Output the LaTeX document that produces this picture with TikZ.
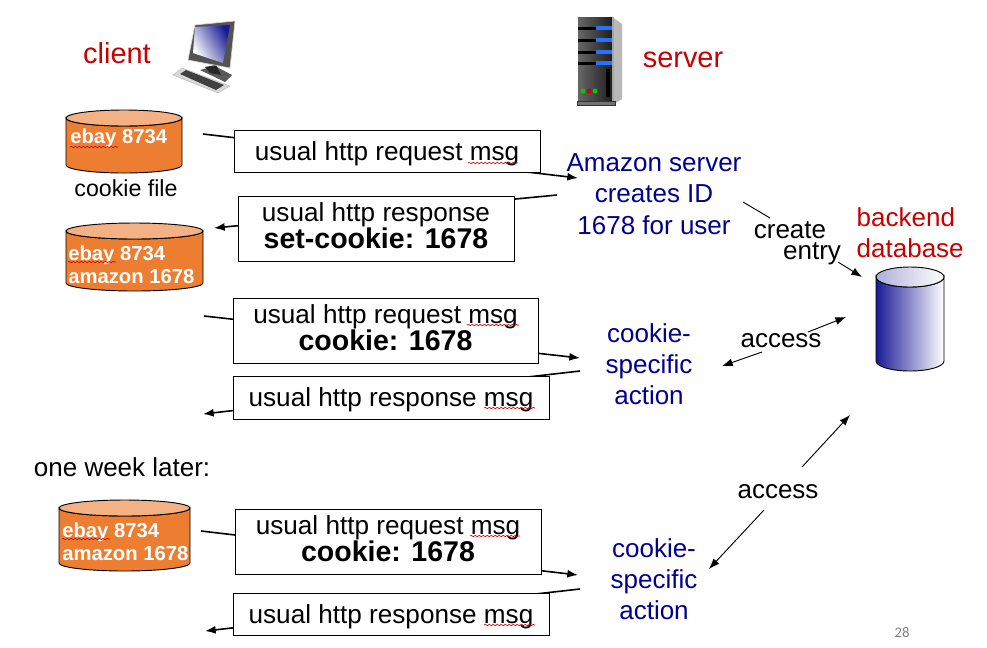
\documentclass[tikz,border=0pt]{standalone}
\usepackage{fontspec}
\setmainfont{Liberation Sans}
\newfontfamily\pagefont{Carlito}
\usetikzlibrary{arrows.meta,decorations.pathmorphing}
\definecolor{titlered}{HTML}{C80000}
\definecolor{stepblue}{HTML}{000090}
\definecolor{drumbody}{HTML}{ED7D31}
\definecolor{drumtop}{HTML}{F4B183}
\definecolor{dbblue}{HTML}{1A1A96}
\newcommand{\drum}[7]{%
  \pgfmathsetmacro{\rx}{(#2-#1)/2}
  \pgfmathsetmacro{\cx}{(#2+#1)/2}
  \pgfmathsetmacro{\ytop}{#3+#5}
  \pgfmathsetmacro{\ybot}{#4-#5}
  \draw[line width=0.7pt,#6] (#1,\ytop) -- (#1,\ybot)
    arc[start angle=180,end angle=0,x radius=\rx,y radius=#5] -- (#2,\ytop)
    arc[start angle=0,end angle=180,x radius=\rx,y radius=#5] -- cycle;
  \draw[line width=0.7pt,#7] (\cx,\ytop) ellipse [x radius=\rx,y radius=#5];
}
\newcommand{\boldline}{\fontsize{21.4}{19.5}\bfseries\selectfont}
\tikzset{
  msgbox/.style={draw,line width=0.7pt,fill=white,inner sep=0pt,align=center,font=\fontsize{19.6}{19.5}\selectfont},
  onebox/.style={msgbox,text depth=0pt},
  twobox/.style={msgbox,text depth=4.5pt},
  msgline/.style={line width=1.2pt,-{Latex[length=8pt,width=6pt]}},
  thinline/.style={line width=0.7pt},
  thinarrow/.style={thinline,-{Latex[length=8pt,width=6pt]}},
  steptext/.style={text=stepblue,align=center,font=\fontsize{19.5}{23.4}\selectfont},
  titletext/.style={text=titlered,font=\fontsize{21.7}{23.2}\selectfont},
  plaintext/.style={font=\fontsize{19.5}{19.5}\selectfont,inner sep=0.5pt},
  drumtext/.style={text=white,anchor=west,inner sep=0pt,align=left,font=\fontsize{15.2}{17.6}\bfseries\selectfont},
  squiggle/.style={red!85!black,line width=0.5pt,decorate,decoration={snake,amplitude=0.5pt,segment length=3pt}},
}
\begin{document}
\begin{tikzpicture}[x=0.75pt,y=-0.75pt]
  \useasboundingbox (0,0) rectangle (987,647);
  % message ends
  \foreach \id/\x/\y in {ma/203/134,mb/578/178,mc/557/195,md/214/228,me/204/316,mf/580/358,
    mg/580/371,mh/203/414,mi/201/531,mj/578/575,mk/580/589,ml/205/631,
    ca/743/202,cb/770/218,cc/838/262,cd/862/277,
    aa/722/366,ab/762/352,ac/808/332,ad/846/317,
    ae/709/569,af/764/510,ag/802/467,ah/850/415}{
    \coordinate (\id) at (\x,\y);
  }
  \draw[msgline] (ma) -- (mb);
  \draw[msgline] (mc) -- (md);
  \draw[msgline] (me) -- (mf);
  \draw[msgline] (mg) -- (mh);
  \draw[msgline] (mi) -- (mj);
  \draw[msgline] (mk) -- (ml);
  \draw[thinline] (ca) -- (cb);
  \draw[thinarrow] (cc) -- (cd);
  \draw[thinarrow] (ab) -- (aa);
  \draw[thinarrow] (ac) -- (ad);
  \draw[thinarrow] (af) -- (ae);
  \draw[thinarrow] (ag) -- (ah);

  % messages
  \node[onebox,minimum width=229.5pt,minimum height=31.5pt] (reqa) at (387,151) {usual http request msg};
  \node[twobox,minimum width=207pt,minimum height=48.75pt] (resa) at (376,228.5) {usual http response\\\boldline set-cookie: 1678};
  \node[twobox,minimum width=228.75pt,minimum height=48.75pt] (reqb) at (385.5,330.5) {usual http request msg\\\boldline cookie: 1678};
  \node[onebox,minimum width=237pt,minimum height=32.25pt] (resb) at (391,397.5) {usual http response msg};
  \node[twobox,minimum width=229.5pt,minimum height=48.75pt] (reqc) at (388,541.5) {usual http request msg\\\boldline cookie: 1678};
  \node[onebox,minimum width=237pt,minimum height=31.5pt] (resc) at (391,614) {usual http response msg};

  % cookie files
  \drum{66}{182}{110}{173}{8}{fill=drumbody}{fill=drumtop}
  \drum{66}{203}{223}{291}{8}{fill=drumbody}{fill=drumtop}
  \drum{59}{190}{500}{571}{8}{fill=drumbody}{fill=drumtop}
  \node[drumtext] (cfa) at (70,138) {ebay 8734};
  \node[drumtext] (cfb) at (68,265) {ebay 8734\\amazon 1678};
  \node[drumtext] (cfc) at (62,542) {ebay 8734\\amazon 1678};
  \node[font=\fontsize{17.4}{17.4}\selectfont] (cftext) at (126,188) {cookie file};

  % database
  \drum{876}{944}{267}{371}{10}{left color=dbblue,middle color=dbblue!35,right color=white}{left color=dbblue!35,right color=white}

  % titles
  \node[titletext] (client) at (117,53) {client};
  \node[titletext] (server) at (683,60) {server};
  \node[titletext,anchor=west,align=left,font=\fontsize{19.5}{23.4}\selectfont] (backend) at (852,233) {backend\\database};

  % steps
  \node[steptext] (ida) at (654,194) {Amazon server\\creates ID\\1678 for user};
  \node[steptext] (acta) at (649,364) {cookie-\\specific\\action};
  \node[steptext] (actb) at (654,579) {cookie-\\specific\\action};
  \node[plaintext] (create) at (790,230) {create};
  \node[plaintext] (entry) at (812,254) {entry};
  \node[plaintext] (accessa) at (781,341) {access};
  \node[plaintext] (accessb) at (778,492) {access};
  \node[plaintext,anchor=west] (later) at (33,467) {one week later:};
  \node[text=gray,font=\pagefont\fontsize{11}{11}\selectfont] (pageno) at (902,633) {28};

  % spelling marks
  \foreach \xa/\xb/\yy in {468/518/163,484/535/408,467/519/325,470/520/536,484/535/625,70/118/147,68/116/262,62/110/539}{
    \draw[squiggle] (\xa,\yy) -- (\xb,\yy);
  }

  % computer
  \fill[gray!70!black] (200,70) -- (215,66) -- (232,75) -- (225,82) -- cycle;
  \fill[black!85] (205,67) -- (216,65) -- (221,75) -- (210,73) -- cycle;
  \fill[gray!30,draw=gray!60,line width=0.3pt] (173,75) -- (182,68) -- (230,86) -- (218,93) -- cycle;
  \fill[black!75] (180,74) -- (186,70) -- (224,85) -- (216,90) -- cycle;
  \fill[gray!65!black,draw=gray!35,line width=0.5pt] (195,25) -- (235,21) -- (230,68) -- (188,60) -- cycle;
  \shade[left color=white,middle color=blue!25!white,right color=dbblue,shading angle=120] (195,27) -- (230,25) -- (223,63) -- (193,53) -- cycle;

  % server
  \fill[gray!55] (612,17) -- (618,21) -- (622,24) -- (622,99) -- (612,105) -- cycle;
  \shade[left color=black!60,right color=black!88] (578,17) rectangle (612,101);
  \fill[gray!70] (612,17) rectangle (614,101);
  \fill[black!55,draw=black!80,line width=0.5pt] (577,101) rectangle (615,105);
  \foreach \yy in {28,40,52,63}{
    \fill[black] (578,\yy-1.5) rectangle (597,\yy+1.5);
    \fill[blue!65!cyan!85] (596,\yy-2) rectangle (612,\yy+2);
  }
  \fill[black] (606,69) rectangle (610,97);
  \foreach \xx/\cc in {583/green,589/red,595/green}{
    \fill[\cc!80!black] (\xx,91) circle (1.8pt);
  }
\end{tikzpicture}
\end{document}
